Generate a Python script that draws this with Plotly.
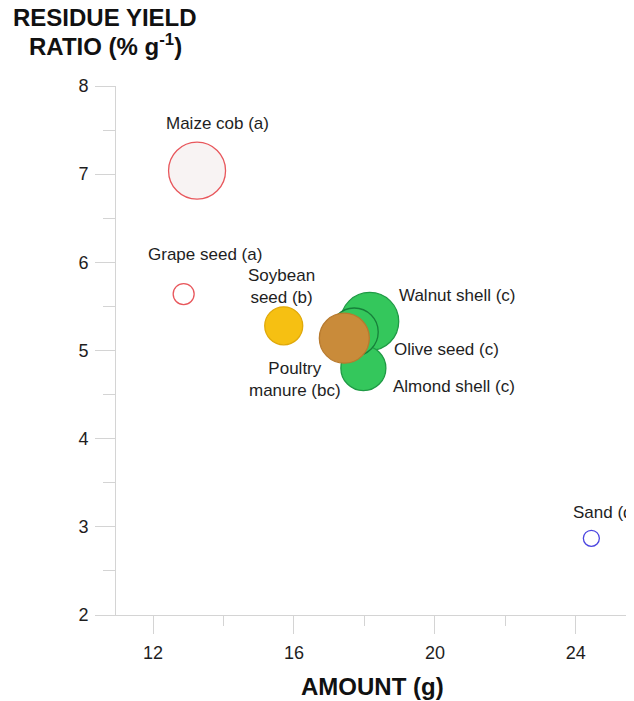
import plotly.graph_objects as go

# ---- data ----
materials = ["Maize cob (a)", "Grape seed (a)", "Soybean<br>seed (b)", "Walnut shell (c)",
             "Almond shell (c)", "Olive seed (c)", "Poultry<br>manure (bc)", "Sand (d)"]
amount_g = [13.25, 12.87, 15.71, 18.15, 17.97, 17.71, 17.43, 24.44]
residue_yield_ratio = [7.04, 5.64, 5.28, 5.33, 4.80, 5.21, 5.14, 2.87]
bubble_value = [57, 21, 38, 58, 45, 48, 50, 16]

x_ticks = [12, 16, 20, 24]
y_ticks = [2, 3, 4, 5, 6, 7, 8]

# ---- styles ----
fill_colors = ["#f8f3f3", "#ffffff", "#f6c012", "#34c75c", "#34c75c", "#34c75c", "#c98b3a", "#ffffff"]
line_colors = ["#e8575c", "#e8575c", "#e0a90a", "#1f9a45", "#1f9a45", "#17803a", "#b87a2e", "#4b45e0"]
# label offsets in px relative to bubble centre: (xshift, yshift, xanchor)
label_offsets = [(20, 47, "center"), (21, 40, "center"), (-2, 39, "center"), (27, 26, "left"),
                 (28, -18, "left"), (38, -18, "left"), (-49, -41, "center"), (-20, 26, "left")]

FONT = "Liberation Sans, Arial, sans-serif"
AXIS_GREY = "#d4d4d4"

fig = go.Figure()
fig.add_trace(go.Scatter(
    x=amount_g, y=residue_yield_ratio, mode="markers",
    marker=dict(size=bubble_value, sizemode="diameter", sizeref=1,
                color=fill_colors, opacity=1,
                line=dict(color=line_colors, width=1.3)),
    hoverinfo="skip", showlegend=False,
))

for name, xv, yv, (dx, dy, xa) in zip(materials, amount_g, residue_yield_ratio, label_offsets):
    fig.add_annotation(x=xv, y=yv, xref="x", yref="y", text=name, showarrow=False,
                       xshift=dx, yshift=dy, xanchor=xa, yanchor="middle", align="center",
                       font=dict(family=FONT, size=17, color="#1e1e1e"))

# axis titles
fig.add_annotation(x=-0.0206, y=1 + (86 - 17) / 529, xref="paper", yref="paper",
                   text="<b>RESIDUE YIELD</b>", showarrow=False, xanchor="center", yanchor="middle",
                   font=dict(family=FONT, size=24, color="#111111"))
fig.add_annotation(x=-0.0206, y=1 + (86 - 45) / 529, xref="paper", yref="paper",
                   text="<b>RATIO (% g<sup>-1</sup>)</b>", showarrow=False, xanchor="center", yanchor="middle",
                   font=dict(family=FONT, size=24, color="#111111"))
fig.add_annotation(x=0.4945, y=-(686 - 615) / 529, xref="paper", yref="paper",
                   text="<b>AMOUNT (g)</b>", showarrow=False, xanchor="center", yanchor="middle",
                   font=dict(family=FONT, size=24, color="#111111"))

# the page body adds an 8px offset, so the figure is 8px smaller than the window
fig.update_layout(
    width=626, height=693,
    margin=dict(l=107.7, r=0, t=78, b=86, pad=0),
    paper_bgcolor="white", plot_bgcolor="white",
    font=dict(family=FONT, size=18, color="#1e1e1e"),
    xaxis=dict(range=[10.95, 25.65], tickvals=x_ticks, ticktext=[str(v) for v in x_ticks],
               showgrid=False, zeroline=False, showline=True, linecolor=AXIS_GREY, linewidth=1,
               ticks="outside", ticklen=18, tickcolor=AXIS_GREY, tickwidth=1, ticklabelstandoff=3,
               minor=dict(dtick=2, tick0=0, ticks="outside", ticklen=10, tickcolor=AXIS_GREY, showgrid=False),
               tickfont=dict(family=FONT, size=18, color="#1e1e1e")),
    yaxis=dict(range=[2, 8], tickvals=y_ticks, ticktext=[str(v) for v in y_ticks],
               showgrid=False, zeroline=False, showline=True, linecolor=AXIS_GREY, linewidth=1,
               ticks="outside", ticklen=20, tickcolor=AXIS_GREY, tickwidth=1, ticklabelstandoff=3,
               minor=dict(dtick=0.5, tick0=0, ticks="outside", ticklen=12, tickcolor=AXIS_GREY, showgrid=False),
               tickfont=dict(family=FONT, size=18, color="#1e1e1e")),
)

fig.write_html("out.html")
